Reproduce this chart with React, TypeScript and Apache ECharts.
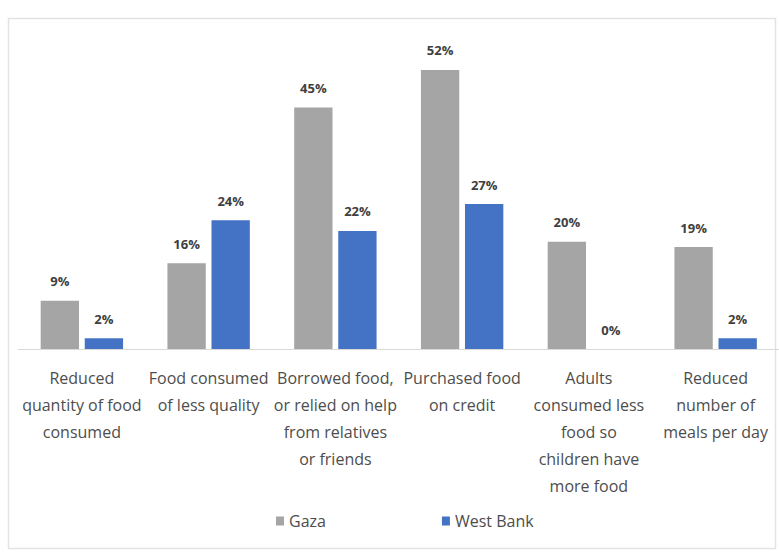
import React, { useEffect, useRef } from "react";
import * as echarts from "echarts";

const categories = [
  "Reduced\nquantity of food\nconsumed",
  "Food consumed\nof less quality",
  "Borrowed food,\nor relied on help\nfrom relatives\nor friends",
  "Purchased food\non credit",
  "Adults\nconsumed less\nfood so\nchildren have\nmore food",
  "Reduced\nnumber of\nmeals per day",
];
const gazaValues = [9, 16, 45, 52, 20, 19];
const westBankValues = [2, 24, 22, 27, 0, 2];
const seriesNames = ["Gaza", "West Bank"];

const FONT = '"Open Sans", "Noto Sans", sans-serif';

export default function App() {
  const ref = useRef<HTMLDivElement>(null);
  useEffect(() => {
    if (!ref.current) return;
    const chart = echarts.init(ref.current, undefined, { renderer: "svg" });
    const label = {
      show: true,
      position: "top",
      distance: 13,
      formatter: "{c}%",
      color: "#404040",
      fontSize: 13,
      fontWeight: "bold",
      fontFamily: FONT,
    };
    chart.setOption({
      animation: false,
      backgroundColor: "#ffffff",
      graphic: [
        {
          type: "rect",
          shape: { x: 8.5, y: 18.5, width: 767, height: 530 },
          style: { fill: "none", stroke: "#e3e3e3", lineWidth: 1.5 },
          silent: true,
        },
      ],
      grid: { left: 18.5, right: -1.5, top: 27, bottom: 206, containLabel: false },
      legend: {
        data: seriesNames,
        bottom: 21,
        left: 271,
        itemWidth: 8,
        itemHeight: 9,
        itemGap: 116,
        icon: "rect",
        textStyle: { color: "#4d4d4d", fontSize: 16, fontFamily: FONT },
      },
      xAxis: {
        type: "category",
        data: categories,
        axisLine: { lineStyle: { color: "#d9d9d9", width: 1 } },
        axisTick: { show: false },
        axisLabel: {
          interval: 0,
          margin: 15,
          color: "#4d4d4d",
          fontSize: 16,
          lineHeight: 27,
          fontFamily: FONT,
        },
      },
      yAxis: {
        type: "value",
        min: 0,
        max: 60,
        show: false,
        splitLine: { show: false },
      },
      series: [
        {
          name: seriesNames[0],
          type: "bar",
          data: gazaValues,
          barGap: "15%",
          barCategoryGap: "35%",
          itemStyle: { color: "#a5a5a5" },
          label,
        },
        {
          name: seriesNames[1],
          type: "bar",
          data: westBankValues,
          barGap: "15%",
          barCategoryGap: "35%",
          itemStyle: { color: "#4472c4" },
          label,
        },
      ],
    });
    return () => chart.dispose();
  }, []);
  return (
    <div
      ref={ref}
      style={{ position: "absolute", left: 0, top: 0, width: 779, height: 555 }}
    />
  );
}
